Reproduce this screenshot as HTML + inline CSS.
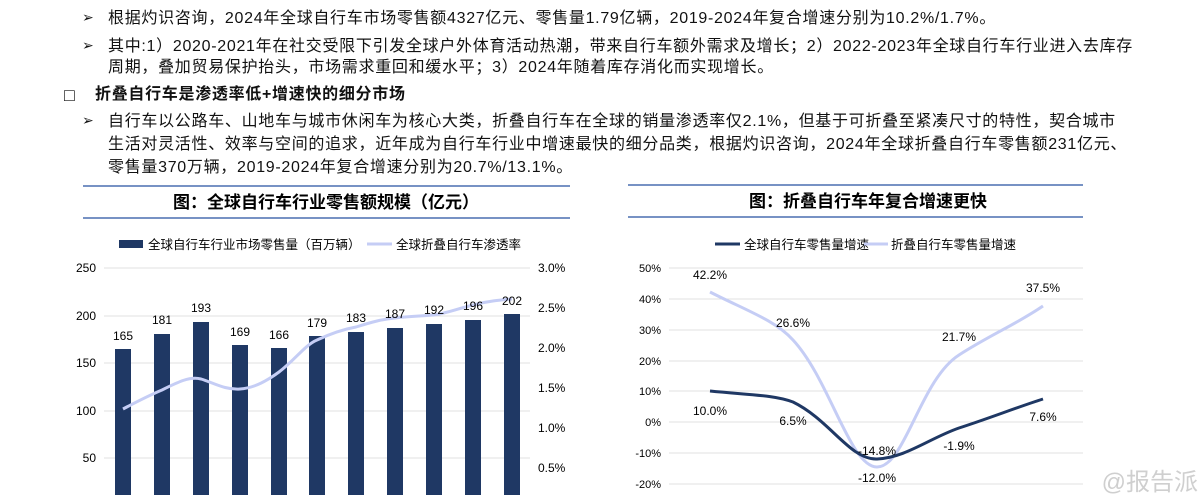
<!DOCTYPE html>
<html><head><meta charset="utf-8"><style>
body{margin:0;width:1200px;height:495px;overflow:hidden;background:#fff;font-family:"Liberation Sans","Noto Sans CJK SC",sans-serif;color:#111;}
.t{position:absolute;font-size:16px;letter-spacing:0.7px;white-space:nowrap;line-height:20px;}
.ar{position:absolute;font-size:14px;left:82px;}
</style></head><body>
<div class="ar" style="top:9px">➢</div>
<div class="t" style="left:108px;top:9px">根据灼识咨询，2024年全球自行车市场零售额4327亿元、零售量1.79亿辆，2019-2024年复合增速分别为10.2%/1.7%。</div>
<div class="ar" style="top:37px">➢</div>
<div class="t" style="left:108px;top:37px">其中:1）2020-2021年在社交受限下引发全球户外体育活动热潮，带来自行车额外需求及增长；2）2022-2023年全球自行车行业进入去库存</div>
<div class="t" style="left:108px;top:58px">周期，叠加贸易保护抬头，市场需求重回和缓水平；3）2024年随着库存消化而实现增长。</div>
<div class="t" style="left:64px;top:85px;font-weight:bold;font-size:18px">□</div>
<div class="t" style="left:95px;top:85px;font-weight:bold">折叠自行车是渗透率低+增速快的细分市场</div>
<div class="ar" style="top:112px">➢</div>
<div class="t" style="left:108px;top:112px">自行车以公路车、山地车与城市休闲车为核心大类，折叠自行车在全球的销量渗透率仅2.1%，但基于可折叠至紧凑尺寸的特性，契合城市</div>
<div class="t" style="left:108px;top:135px">生活对灵活性、效率与空间的追求，近年成为自行车行业中增速最快的细分品类，根据灼识咨询，2024年全球折叠自行车零售额231亿元、</div>
<div class="t" style="left:108px;top:158px">零售量370万辆，2019-2024年复合增速分别为20.7%/13.1%。</div>

<svg width="1200" height="495" style="position:absolute;left:0;top:0" font-family="Liberation Sans,Noto Sans CJK SC,sans-serif">
<g stroke="#4a6fb0" stroke-width="1.5"><line x1="83" y1="186" x2="570" y2="186"/><line x1="83" y1="218" x2="570" y2="218"/>
<line x1="628" y1="185" x2="1083" y2="185"/><line x1="628" y1="217" x2="1083" y2="217"/></g>
<text x="326" y="208" font-size="17" font-weight="bold" text-anchor="middle">图：全球自行车行业零售额规模（亿元）</text>
<text x="868" y="207" font-size="17" font-weight="bold" text-anchor="middle">图：折叠自行车年复合增速更快</text>
<rect x="119" y="240" width="24" height="8" fill="#1f3864"/>
<text x="148" y="249" font-size="12.5">全球自行车行业市场零售量（百万辆）</text>
<line x1="367" y1="244" x2="392" y2="244" stroke="#c5cdf5" stroke-width="3"/>
<text x="396" y="249" font-size="12.5">全球折叠自行车渗透率</text>
<g stroke="#e0e0e0"><line x1="104" y1="268" x2="530" y2="268"/><line x1="104" y1="316" x2="530" y2="316"/><line x1="104" y1="363" x2="530" y2="363"/><line x1="104" y1="411" x2="530" y2="411"/><line x1="104" y1="458" x2="530" y2="458"/></g>
<g font-size="12" text-anchor="end"><text x="96" y="272">250</text><text x="96" y="320">200</text><text x="96" y="367">150</text><text x="96" y="415">100</text><text x="96" y="462">50</text></g>
<g font-size="12"><text x="538" y="272">3.0%</text><text x="538" y="312">2.5%</text><text x="538" y="352">2.0%</text><text x="538" y="392">1.5%</text><text x="538" y="432">1.0%</text><text x="538" y="472">0.5%</text></g>
<g fill="#1f3864">
<rect x="115" y="349" width="16" height="150"/><rect x="154" y="334" width="16" height="165"/><rect x="193" y="322" width="16" height="177"/><rect x="232" y="345" width="16" height="154"/><rect x="271" y="348" width="16" height="151"/><rect x="309" y="336" width="16" height="163"/><rect x="348" y="332" width="16" height="167"/><rect x="387" y="328" width="16" height="171"/><rect x="426" y="324" width="16" height="175"/><rect x="465" y="320" width="16" height="179"/><rect x="504" y="314" width="16" height="185"/>
</g>
<path d="M123,409 C140,400 150,395 162,390 C178,382 190,376 201,379 C214,383 225,390 240,389 C255,388 268,380 279,372 C295,360 305,345 317,340 C332,333 345,329 356,327 C372,322 383,319 395,318 C410,316 422,316 434,315 C448,313 460,308 473,305 C488,301 500,300 512,299" fill="none" stroke="#c5cdf5" stroke-width="3"/>
<g font-size="12" text-anchor="middle">
<text x="123" y="340">165</text><text x="162" y="324">181</text><text x="201" y="312">193</text><text x="240" y="336">169</text><text x="279" y="339">166</text><text x="317" y="327">179</text><text x="356" y="322">183</text><text x="395" y="318">187</text><text x="434" y="314">192</text><text x="473" y="310">196</text><text x="512" y="305">202</text>
</g>
<line x1="715" y1="244" x2="740" y2="244" stroke="#1f3864" stroke-width="3"/>
<text x="744" y="249" font-size="12.5">全球自行车零售量增速</text>
<line x1="864" y1="244" x2="888" y2="244" stroke="#c5cdf5" stroke-width="3"/>
<text x="891" y="249" font-size="12.5">折叠自行车零售量增速</text>
<g stroke="#e0e0e0"><line x1="669" y1="268" x2="1083" y2="268"/><line x1="669" y1="299" x2="1083" y2="299"/><line x1="669" y1="330" x2="1083" y2="330"/><line x1="669" y1="361" x2="1083" y2="361"/><line x1="669" y1="391" x2="1083" y2="391"/><line x1="669" y1="422" x2="1083" y2="422"/><line x1="669" y1="453" x2="1083" y2="453"/><line x1="669" y1="484" x2="1083" y2="484"/></g>
<g font-size="11" text-anchor="end"><text x="661" y="272">50%</text><text x="661" y="303">40%</text><text x="661" y="334">30%</text><text x="661" y="365">20%</text><text x="661" y="395">10%</text><text x="661" y="426">0%</text><text x="661" y="457">-10%</text><text x="661" y="488">-20%</text></g>
<path d="M710,292 C745,310 775,320 793,340 C830,380 850,467 877,467 C905,467 920,380 959,355 C990,335 1015,325 1043,306" fill="none" stroke="#c5cdf5" stroke-width="3"/>
<path d="M710,391 C750,395 775,395 793,402 C830,420 850,460 877,459 C905,458 930,438 959,428 C990,418 1015,408 1043,399" fill="none" stroke="#1f3864" stroke-width="3"/>
<g font-size="12" text-anchor="middle">
<text x="710" y="279">42.2%</text><text x="793" y="327">26.6%</text><text x="877" y="455">-14.8%</text><text x="959" y="341">21.7%</text><text x="1043" y="292">37.5%</text>
<text x="710" y="415">10.0%</text><text x="793" y="425">6.5%</text><text x="877" y="482">-12.0%</text><text x="959" y="450">-1.9%</text><text x="1043" y="421">7.6%</text>
</g>
<text x="1198" y="490" font-size="24" fill="#cfcfcf" text-anchor="end">@报告派</text>
</svg>
</body></html>
